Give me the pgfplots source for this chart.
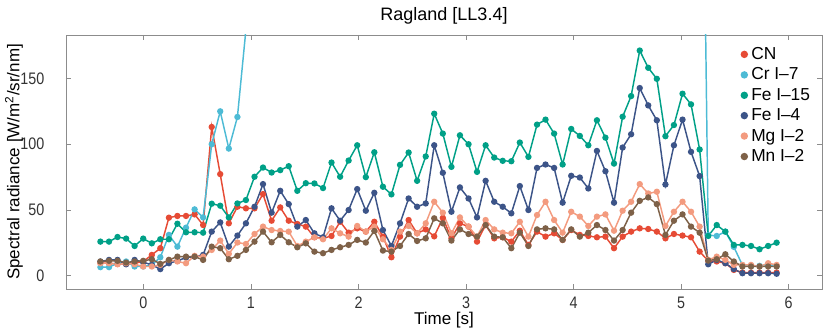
\documentclass[border=0pt]{standalone}
\usepackage{fontspec}
\setmainfont{Liberation Sans}
\newfontfamily\narrowfont{Liberation Sans}[FakeStretch=0.86]
\usepackage{pgfplots}
\usepackage{pgfplotstable}
\pgfplotsset{compat=1.18}
\definecolor{cCN}{HTML}{E64B35}
\definecolor{cCr}{HTML}{4DBBD5}
\definecolor{cFeA}{HTML}{00A087}
\definecolor{cFeB}{HTML}{3C5488}
\definecolor{cMg}{HTML}{F39B7F}
\definecolor{cMn}{HTML}{7E6148}

% time [s] and spectral radiance of each line; Cr I-7 runs off the top between ~1 s and ~5.2 s
\pgfplotstableread{
t      CN    Cr     FeA    FeB    Mg    Mn
-0.400 9.6   6.6    26.0   10.9   9.6   10.9
-0.320 9.6   6.6    26.0   12.1   9.6   11.4
-0.241 9.0   9.6    29.5   12.1   8.8   11.4
-0.161 9.0   10.9   28.3   8.8    9.6   10.1
-0.082 9.6   7.1    22.7   12.1   8.8   10.9
-0.002 10.9  7.1    28.3   10.4   7.1   11.4
0.078  15.9  8.3    24.7   8.3    7.1   12.6
0.157  21.0  14.1   27.8   5.1    8.3   9.1
0.237  44.2  31.1   27.8   9.6    12.1  12.1
0.316  45.5  22.2   39.6   11.4   10.9  14.6
0.396  45.5  36.6   33.1   13.9   9.6   14.6
0.476  46.7  50.5   33.1   14.6   15.2  14.6
0.555  38.6  44.4   32.8   15.9   14.6  12.1
0.635  113.1 100.0  54.8   33.6   19.7  22.2
0.714  77.3  125.0  53.3   40.6   26.8  21.0
0.794  39.9  96.7   44.4   22.2   16.7  12.6
0.874  52.5  120.7  55.0   30.6   25.3  15.2
0.953  51.3  187    57.6   39.9   24.2  19.7
1.033  51.3  330    75.3   52.5   31.8  26.0
1.112  62.1  410    82.3   69.7   37.4  33.6
1.192  41.9  380    78.5   48.0   34.8  25.5
1.272  52.0  420    80.3   64.6   34.1  31.1
1.351  41.9  400    83.3   54.5   33.6  25.5
1.431  39.4  350    64.6   37.4   22.7  21.7
1.510  37.4  360    70.4   42.4   26.0  24.7
1.590  29.3  340    70.2   32.3   29.3  18.4
1.670  28.5  330    66.7   29.3   27.8  17.2
1.749  30.3  400    86.1   51.3   36.1  19.7
1.829  41.1  370    75.3   41.9   32.3  21.7
1.908  32.8  410    87.6   50.0   29.8  23.5
1.988  36.1  460    99.2   65.9   37.9  27.3
2.068  33.6  390    75.0   49.5   33.6  25.3
2.147  41.1  440    93.9   63.1   37.4  34.1
2.227  29.8  360    67.7   34.8   27.8  19.2
2.306  14.1  320    61.9   22.7   19.7  18.4
2.386  29.8  400    84.3   39.9   33.6  22.7
2.466  42.4  440    93.7   58.8   37.9  31.8
2.545  32.3  380    72.2   52.5   32.3  26.5
2.625  35.3  430    90.7   55.0   39.9  28.5
2.704  30.0  560    123.2  99.2   56.3  43.7
2.784  44.0  500    108.1  78.3   48.0  39.9
2.864  28.5  400    82.8   48.7   32.3  26.8
2.943  39.9  480    106.8  67.2   44.4  35.3
3.023  37.4  450    100.0  58.8   37.4  31.8
3.102  26.0  380    79.0   44.4   29.8  29.8
3.182  38.6  470    99.2   72.2   42.4  38.6
3.262  28.5  420    89.9   56.3   35.3  29.8
3.341  29.3  410    87.4   52.5   32.8  29.3
3.421  26.0  400    87.1   47.5   32.3  21.0
3.500  34.3  460    101.3  68.2   41.1  32.8
3.580  23.5  410    90.4   50.0   29.8  22.7
3.660  33.6  500    114.9  82.0   46.2  35.3
3.739  29.8  520    118.7  84.6   56.3  36.1
3.819  32.3  480    108.1  82.0   42.4  35.3
3.898  27.3  390    84.6   55.6   32.8  27.3
3.978  34.8  490    111.6  76.0   48.7  35.3
4.058  31.1  470    106.3  74.7   45.0  29.8
4.137  30.3  450    99.2   66.4   37.9  32.8
4.217  29.3  520    118.2  94.9   45.0  38.6
4.296  29.8  470    105.0  79.5   46.7  34.8
4.376  21.0  390    85.3   55.6   34.3  26.8
4.456  29.8  530    120.9  97.5   49.5  34.8
4.535  33.6  600    136.6  107.6  56.3  48.0
4.615  36.1  760    171.2  142.7  69.7  57.0
4.694  35.6  700    158.1  129.5  62.6  59.6
4.774  33.6  660    149.7  118.2  63.9  54.5
4.854  28.5  470    106.1  69.4   37.9  31.1
4.933  31.8  510    114.6  99.2   48.7  41.9
5.013  30.6  610    138.4  118.7  56.3  46.7
5.092  29.3  580    130.3  94.2   48.7  37.4
5.172  18.4  540    96.0   75.8   37.4  32.8
5.252  11.4  31.0   30.3   8.8    12.1  11.6
5.331  10.9  30.3   38.6   12.1   14.6  12.6
5.411  9.6   33.6   33.6   9.6    12.1  16.4
5.490  4.5   22.0   23.5   5.1    8.3   10.9
5.570  2.5   8.1    23.5   2.0    8.3   7.1
5.650  2.5   7.6    22.7   2.0    8.3   7.1
5.729  2.5   7.6    20.2   2.0    7.1   7.1
5.809  2.5   8.3    22.7   2.0    9.6   7.1
5.888  2.5   7.6    25.2   1.6    8.3   7.1
}\radiance

\begin{document}
\begin{tikzpicture}
\begin{axis}[
  scale only axis, width=567pt, height=190.5pt,
  xmin=-0.72, xmax=6.31, ymin=-10, ymax=183,
  xtick={0,1,2,3,4,5,6}, ytick={0,50,100,150},
  tick align=inside, major tick length=3.5pt,
  axis line style={black!45, line width=0.6pt},
  tick style={black!45, line width=0.6pt},
  /pgf/number format/assume math mode=true,
  every tick label/.append style={font=\narrowfont\fontsize{12.5}{13}\selectfont, text=black!80},
  xticklabel style={anchor=center, yshift=-10.5pt},
  yticklabel style={anchor=east, inner sep=0pt, xshift=-16pt},
  title={\fontsize{13.5}{15}\selectfont Ragland [LL3.4]},
  title style={at={(axis description cs:0.5,1.0435)}, anchor=center},
  xlabel={Time [s]},
  xlabel style={at={(axis description cs:0.5,-0.122)}, anchor=center, font=\fontsize{12.75}{14}\selectfont},
  ylabel={Spectral radiance [W/m\textsuperscript{2}/sr/nm]},
  ylabel style={at={(axis description cs:-0.0688,0.5)}, anchor=center, font=\fontsize{12.75}{14}\selectfont},
  every axis plot/.append style={line width=1.1pt, mark=*, mark size=1.8pt},
  legend image code/.code={\draw[mark=*, mark size=2.2pt] plot coordinates {(0pt,0pt)};},
  legend style={at={(axis description cs:0.893,0.963)}, anchor=north west,
    draw=none, fill=none, inner sep=0pt, font=\fontsize{13}{14}\selectfont,
    row sep=0.8pt, column sep=1pt, cells={anchor=west}},
]
\addplot[color=cCN] table[x=t, y=CN] {\radiance};
\addplot[color=cCr] table[x=t, y=Cr] {\radiance};
\addplot[color=cFeA] table[x=t, y=FeA] {\radiance};
\addplot[color=cFeB] table[x=t, y=FeB] {\radiance};
\addplot[color=cMg] table[x=t, y=Mg] {\radiance};
\addplot[color=cMn] table[x=t, y=Mn] {\radiance};
\legend{CN, Cr I–7, Fe I–15, Fe I–4, Mg I–2, Mn I–2}
\end{axis}
\pgfresetboundingbox
\path (-49.5pt,-32.25pt) rectangle (573pt,216.75pt);
\end{tikzpicture}
\end{document}
